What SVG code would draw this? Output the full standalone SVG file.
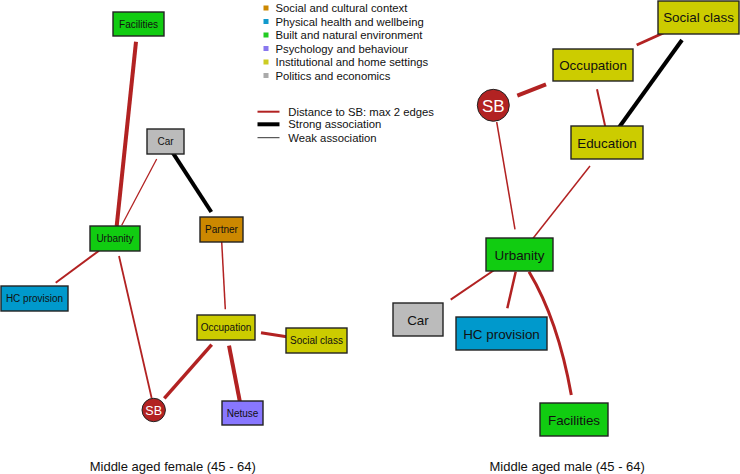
<svg xmlns="http://www.w3.org/2000/svg" width="740" height="474" viewBox="0 0 740 474">
<style>
text{font-family:"Liberation Sans",Arial,sans-serif;fill:#111}
.n rect{stroke:#222;stroke-width:1.4}
.s{font-size:10px}
.b{font-size:13.4px}
.lg{font-size:11.3px}
.t{font-size:13px}
.e{stroke:#B22222;fill:none;stroke-linecap:butt}
.k{stroke:#000;fill:none}
.green{fill:#11CC11}.gray{fill:#BBBBBB}.orange{fill:#CC8800}.blue{fill:#0099CC}.yellow{fill:#CCCC00}.purple{fill:#8877FF}
</style>
<rect width="740" height="474" fill="#fff"/>
<g id="legend">
<rect x="263.5" y="5.5" width="5" height="5" fill="#CC8800"/>
<rect x="263.5" y="19" width="5" height="5" fill="#1199CC"/>
<rect x="263.5" y="32.5" width="5" height="5" fill="#22CC22"/>
<rect x="263.5" y="46" width="5" height="5" fill="#8877EE"/>
<rect x="263.5" y="59.5" width="5" height="5" fill="#CCCC22"/>
<rect x="263.5" y="73" width="5" height="5" fill="#AAAAAA"/>
<text class="lg" x="275.5" y="12.3">Social and cultural context</text>
<text class="lg" x="275.5" y="25.8">Physical health and wellbeing</text>
<text class="lg" x="275.5" y="39.3">Built and natural environment</text>
<text class="lg" x="275.5" y="52.8">Psychology and behaviour</text>
<text class="lg" x="275.5" y="66.3">Institutional and home settings</text>
<text class="lg" x="275.5" y="79.8">Politics and economics</text>
<line x1="257.5" y1="111.7" x2="279.5" y2="111.7" stroke="#B22222" stroke-width="2"/>
<line x1="257.5" y1="124.3" x2="279.5" y2="124.3" stroke="#000" stroke-width="4"/>
<line x1="257.5" y1="137.7" x2="279.5" y2="137.7" stroke="#333" stroke-width="1"/>
<text class="lg" x="288.3" y="115.6">Distance to SB: max 2 edges</text>
<text class="lg" x="288.3" y="128.2">Strong association</text>
<text class="lg" x="288.3" y="141.6">Weak association</text>
</g>
<g id="connectors">
<line class="e" x1="136" y1="41.7" x2="116.7" y2="226" stroke-width="4"/>
<line class="e" x1="156.7" y1="159" x2="121.7" y2="225.3" stroke-width="1.3"/>
<line class="k" x1="172.7" y1="152.7" x2="211.3" y2="212" stroke-width="4"/>
<line class="e" x1="99" y1="250.7" x2="55.7" y2="282.7" stroke-width="2"/>
<line class="e" x1="119" y1="256" x2="151.7" y2="398.3" stroke-width="1.8"/>
<line class="e" x1="221.7" y1="241.7" x2="225.3" y2="309.3" stroke-width="1.5"/>
<line class="e" x1="261" y1="332.7" x2="286.7" y2="336.7" stroke-width="3"/>
<line class="e" x1="211.7" y1="344.7" x2="164.3" y2="398.3" stroke-width="3.5"/>
<line class="e" x1="229" y1="345.7" x2="240" y2="402.3" stroke-width="4"/>
<line class="e" x1="636.7" y1="45" x2="663.3" y2="33" stroke-width="3"/>
<line class="k" x1="682" y1="40" x2="619.3" y2="127" stroke-width="4"/>
<line class="e" x1="517.3" y1="95.7" x2="546" y2="84.3" stroke-width="4"/>
<line class="e" x1="597" y1="89.3" x2="605.3" y2="126.7" stroke-width="2"/>
<line class="e" x1="496.7" y1="122" x2="515" y2="229.3" stroke-width="1.5"/>
<line class="e" x1="590" y1="166" x2="532.7" y2="238.7" stroke-width="1.5"/>
<line class="e" x1="494.3" y1="270" x2="450.7" y2="299.7" stroke-width="2"/>
<line class="e" x1="515.7" y1="271.7" x2="507.3" y2="308.3" stroke-width="2.5"/>
<path class="e" d="M529 271.7 Q558 320 571.3 395" stroke-width="3"/>
</g>
<g id="f-facilities" class="n"><rect class="green" x="113" y="12" width="51" height="24"/><text class="s" x="138.5" y="27.5" text-anchor="middle">Facilities</text></g>
<g id="f-car" class="n"><rect class="gray" x="147" y="129" width="37" height="25"/><text class="s" x="165.5" y="145" text-anchor="middle">Car</text></g>
<g id="f-partner" class="n"><rect class="orange" x="200" y="217" width="43" height="25"/><text class="s" x="221.5" y="233" text-anchor="middle">Partner</text></g>
<g id="f-urbanity" class="n"><rect class="green" x="90" y="226" width="50" height="25"/><text class="s" x="115" y="242" text-anchor="middle">Urbanity</text></g>
<g id="f-hcprovision" class="n"><rect class="blue" x="1" y="286" width="67" height="25"/><text class="s" x="34.5" y="302" text-anchor="middle">HC provision</text></g>
<g id="f-occupation" class="n"><rect class="yellow" x="197" y="315" width="58" height="25"/><text class="s" x="226" y="331" text-anchor="middle">Occupation</text></g>
<g id="f-socialclass" class="n"><rect class="yellow" x="286" y="328" width="61" height="25"/><text class="s" x="316.5" y="344" text-anchor="middle">Social class</text></g>
<g id="f-netuse" class="n"><rect class="purple" x="222" y="401" width="41" height="24"/><text class="s" x="242.5" y="417" text-anchor="middle">Netuse</text></g>
<g id="f-sb"><circle cx="153.7" cy="410" r="11.7" fill="#B22222" stroke="#222" stroke-width="1"/><text x="153.7" y="414.5" text-anchor="middle" style="font-size:12.5px;fill:#fff">SB</text></g>
<text class="t" x="172.8" y="471" text-anchor="middle">Middle aged female (45 - 64)</text>
<g id="m-socialclass" class="n"><rect class="yellow" x="658" y="1" width="81" height="33"/><text class="b" x="698.5" y="22" text-anchor="middle">Social class</text></g>
<g id="m-occupation" class="n"><rect class="yellow" x="553" y="49" width="80" height="32"/><text class="b" x="593" y="69.5" text-anchor="middle">Occupation</text></g>
<g id="m-education" class="n"><rect class="yellow" x="571" y="126" width="72" height="33"/><text class="b" x="607" y="148" text-anchor="middle">Education</text></g>
<g id="m-urbanity" class="n"><rect class="green" x="486" y="238" width="67" height="33"/><text class="b" x="519.5" y="259.5" text-anchor="middle">Urbanity</text></g>
<g id="m-car" class="n"><rect class="gray" x="393" y="303" width="50" height="33"/><text class="b" x="418" y="325" text-anchor="middle">Car</text></g>
<g id="m-hcprovision" class="n"><rect class="blue" x="456" y="317" width="91" height="33"/><text class="b" x="501.5" y="338.5" text-anchor="middle">HC provision</text></g>
<g id="m-facilities" class="n"><rect class="green" x="540" y="403" width="68" height="33"/><text class="b" x="574" y="424.5" text-anchor="middle">Facilities</text></g>
<g id="m-sb"><circle cx="493.3" cy="105.3" r="16" fill="#B22222" stroke="#222" stroke-width="1"/><text x="493.3" y="111.5" text-anchor="middle" style="font-size:17px;fill:#fff">SB</text></g>
<text class="t" x="567.2" y="471" text-anchor="middle">Middle aged male (45 - 64)</text>
</svg>
